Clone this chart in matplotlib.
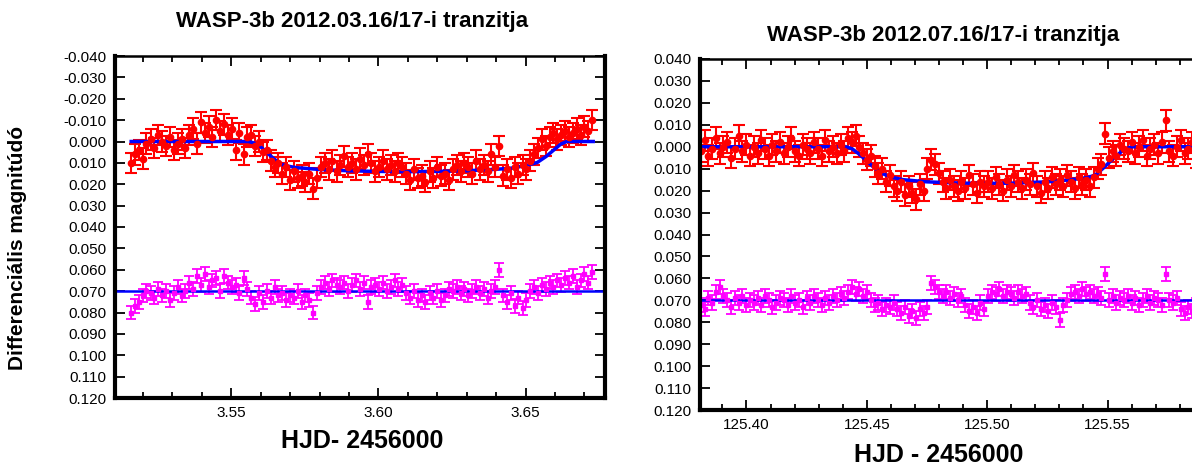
import numpy as np
import matplotlib; matplotlib.use("Agg")
import matplotlib.pyplot as plt
from matplotlib.ticker import MultipleLocator, FuncFormatter

plt.rcParams.update({"font.family": ["Liberation Sans", "DejaVu Sans"],
                     "axes.unicode_minus": False})

# --- 2012.03.16/17 (bal panel) ---
t_mar = [3.5160, 3.5173, 3.5186, 3.5199, 3.5212, 3.5226, 3.5239, 3.5252, 3.5265, 3.5278,
         3.5291, 3.5305, 3.5318, 3.5331, 3.5344, 3.5357, 3.5370, 3.5384, 3.5397, 3.5410,
         3.5423, 3.5436, 3.5449, 3.5463, 3.5476, 3.5489, 3.5502, 3.5515, 3.5528, 3.5542,
         3.5555, 3.5568, 3.5581, 3.5594, 3.5607, 3.5621, 3.5634, 3.5647, 3.5660, 3.5673,
         3.5686, 3.5700, 3.5713, 3.5726, 3.5739, 3.5752, 3.5765, 3.5779, 3.5792, 3.5805,
         3.5818, 3.5831, 3.5844, 3.5858, 3.5871, 3.5884, 3.5897, 3.5910, 3.5923, 3.5937,
         3.5950, 3.5963, 3.5976, 3.5989, 3.6002, 3.6016, 3.6029, 3.6042, 3.6055, 3.6068,
         3.6081, 3.6095, 3.6108, 3.6121, 3.6134, 3.6147, 3.6160, 3.6174, 3.6187, 3.6200,
         3.6213, 3.6226, 3.6239, 3.6253, 3.6266, 3.6279, 3.6292, 3.6305, 3.6318, 3.6332,
         3.6345, 3.6358, 3.6371, 3.6384, 3.6397, 3.6411, 3.6424, 3.6437, 3.6450, 3.6463,
         3.6476, 3.6490, 3.6503, 3.6516, 3.6529, 3.6542, 3.6555, 3.6569, 3.6582, 3.6595,
         3.6608, 3.6621, 3.6634, 3.6648, 3.6661, 3.6674, 3.6687, 3.6700, 3.6713, 3.6727]
var_mar = [0.010, 0.006, 0.004, 0.008, 0.001,
           -0.001, 0.003, -0.003, 0.000, 0.002, -0.002, 0.004, 0.001, -0.001, 0.003,
           -0.003, -0.006, 0.001, -0.009, -0.004, -0.007, -0.002, -0.010, -0.005, -0.008, -0.003, -0.006,
           0.004, -0.004, 0.006, -0.002,
           -0.003, 0.002, 0.000, 0.005, 0.004, 0.009, 0.012, 0.010,
           0.015, 0.012, 0.018, 0.014, 0.017, 0.016, 0.019, 0.015, 0.022, 0.017,
           0.012, 0.010, 0.013, 0.009, 0.014, 0.011, 0.007, 0.012, 0.010, 0.013, 0.008, 0.011, 0.006, 0.010,
           0.014, 0.012, 0.009, 0.013, 0.011, 0.014, 0.010, 0.012,
           0.015, 0.018, 0.013, 0.017, 0.016, 0.019, 0.014, 0.017, 0.012, 0.016, 0.015, 0.018,
           0.013, 0.011, 0.014, 0.010, 0.012, 0.015, 0.009, 0.013, 0.011, 0.014, 0.006, 0.012, 0.002,
           0.016, 0.013, 0.017, 0.012, 0.015, 0.011, 0.013,
           0.009, 0.006, 0.003, -0.001, 0.002, -0.002,
           -0.004, -0.001, -0.003, -0.005, -0.002, -0.004, -0.006, -0.003, -0.007, -0.005, -0.010]
chk_mar = [0.080, 0.077, 0.075, 0.072, 0.070,
           0.071, 0.073, 0.069, 0.072, 0.070, 0.074, 0.071, 0.068, 0.072, 0.070,
           0.066, 0.069, 0.063, 0.067, 0.062, 0.068, 0.065, 0.064, 0.070, 0.063, 0.066, 0.068,
           0.067, 0.071, 0.064, 0.069,
           0.073, 0.076, 0.071, 0.075, 0.070, 0.073, 0.068, 0.072,
           0.071, 0.074, 0.072, 0.073, 0.070, 0.075, 0.072, 0.074, 0.080, 0.071,
           0.068, 0.066, 0.069, 0.065, 0.067, 0.068, 0.066, 0.070, 0.067, 0.065, 0.069, 0.066, 0.075, 0.068,
           0.067, 0.069, 0.066, 0.070, 0.068, 0.065, 0.069, 0.067,
           0.071, 0.073, 0.070, 0.074, 0.072, 0.075, 0.071, 0.073, 0.070, 0.074, 0.072, 0.069,
           0.070, 0.068, 0.071, 0.069, 0.072, 0.070, 0.068, 0.071, 0.069, 0.073, 0.070, 0.068, 0.060,
           0.072, 0.075, 0.071, 0.077, 0.073, 0.078, 0.074,
           0.070, 0.068, 0.071, 0.067, 0.069, 0.066,
           0.068, 0.065, 0.067, 0.064, 0.066, 0.063, 0.068, 0.065, 0.062, 0.066, 0.061]
fit_t_mar = [3.5160, 3.5559, 3.5580, 3.5600, 3.5620, 3.5640, 3.5660, 3.5680, 3.5720, 3.5800,
             3.5900, 3.6000, 3.6100, 3.6200, 3.6300, 3.6400, 3.6450, 3.6500, 3.6540, 3.6570,
             3.6600, 3.6620, 3.6640, 3.6730]
fit_m_mar = [0.0, 0.0, 0.0008, 0.0025, 0.0050, 0.0075, 0.0098, 0.0112, 0.0122, 0.0131,
             0.0137, 0.0140, 0.0141, 0.0140, 0.0137, 0.0130, 0.0125, 0.0113, 0.0098, 0.0070,
             0.0035, 0.0012, 0.0, 0.0]

# --- 2012.07.16/17 (jobb panel) ---
t_jul = [125.3810, 125.3826, 125.3841, 125.3857, 125.3873, 125.3889, 125.3904, 125.3920, 125.3936, 125.3951,
         125.3967, 125.3983, 125.3998, 125.4014, 125.4030, 125.4046, 125.4061, 125.4077, 125.4093, 125.4108,
         125.4124, 125.4140, 125.4155, 125.4171, 125.4187, 125.4203, 125.4218, 125.4234, 125.4250, 125.4265,
         125.4281, 125.4297, 125.4312, 125.4328, 125.4344, 125.4360, 125.4375, 125.4391, 125.4407, 125.4422,
         125.4438, 125.4454, 125.4469, 125.4485, 125.4501, 125.4517, 125.4532, 125.4548, 125.4564, 125.4579,
         125.4595, 125.4611, 125.4626, 125.4642, 125.4658, 125.4674, 125.4689, 125.4705, 125.4721, 125.4736,
         125.4752, 125.4768, 125.4783, 125.4799, 125.4815, 125.4831, 125.4846, 125.4862, 125.4878, 125.4893,
         125.4909, 125.4925, 125.4940, 125.4956, 125.4972, 125.4988, 125.5003, 125.5019, 125.5035, 125.5050,
         125.5066, 125.5082, 125.5097, 125.5113, 125.5129, 125.5145, 125.5160, 125.5176, 125.5192, 125.5207,
         125.5223, 125.5239, 125.5254, 125.5270, 125.5286, 125.5302, 125.5317, 125.5333, 125.5349, 125.5364,
         125.5380, 125.5396, 125.5411, 125.5427, 125.5443, 125.5459, 125.5474, 125.5490, 125.5506, 125.5521,
         125.5537, 125.5553, 125.5568, 125.5584, 125.5600, 125.5616, 125.5631, 125.5647, 125.5663, 125.5678,
         125.5694, 125.5710, 125.5725, 125.5741, 125.5757, 125.5773, 125.5788, 125.5804, 125.5820, 125.5835,
         125.5851, 125.5867, 125.5882, 125.5898, 125.5914, 125.5930, 125.5945, 125.5961, 125.5977, 125.5992]
var_jul = [0.002, -0.003, 0.004, 0.001, -0.004, 0.003, 0.000, -0.002, 0.005, 0.001,
           -0.005, 0.002, -0.001, 0.004, 0.000, 0.003, -0.003, 0.001, 0.004, -0.001,
           0.002, -0.002, 0.003, 0.000, -0.004, 0.002, 0.004, -0.001, 0.001, 0.003,
           -0.002, 0.001, 0.004, -0.003, 0.002, 0.000, 0.003, -0.001, 0.002,
           -0.004, -0.002, -0.005, 0.000, 0.003,
           0.006, 0.004, 0.009, 0.012, 0.010, 0.016, 0.013, 0.018,
           0.020, 0.016, 0.022, 0.018, 0.021, 0.024, 0.017, 0.020,
           0.010, 0.006, 0.008, 0.012,
           0.016, 0.019, 0.015, 0.018, 0.020, 0.016, 0.019, 0.013, 0.017, 0.021, 0.016, 0.018,
           0.016, 0.019, 0.014, 0.017, 0.020, 0.015, 0.018, 0.013, 0.016, 0.019,
           0.015, 0.017, 0.012, 0.018, 0.021, 0.016, 0.019, 0.014, 0.017, 0.015,
           0.018, 0.013, 0.016, 0.019, 0.014, 0.017, 0.015, 0.018,
           0.014, 0.010, 0.008, -0.006, 0.005, 0.002, 0.004, -0.001, 0.001,
           0.002, -0.002, 0.003, 0.000, -0.003, 0.004, 0.001, -0.001, 0.003, -0.002,
           -0.012, 0.002, 0.004, 0.000, -0.003, 0.003, 0.001, -0.002, 0.005, 0.002,
           -0.001, 0.003, 0.000, 0.004, -0.002, 0.002, 0.001]
chk_jul = [0.072, 0.074, 0.069, 0.071, 0.066, 0.064, 0.068, 0.070, 0.073, 0.069, 0.071, 0.068, 0.072,
           0.070, 0.071, 0.069, 0.072, 0.068, 0.070, 0.073, 0.071, 0.069, 0.070,
           0.072, 0.068, 0.071, 0.070, 0.073, 0.069, 0.071, 0.068, 0.070, 0.072,
           0.069, 0.071, 0.068, 0.070, 0.067, 0.069,
           0.066, 0.064, 0.067, 0.065, 0.068, 0.066,
           0.070, 0.072, 0.071, 0.074, 0.072, 0.073, 0.071,
           0.074, 0.076, 0.073, 0.077, 0.075, 0.078, 0.074, 0.076, 0.073,
           0.062, 0.064, 0.066,
           0.068, 0.066, 0.069, 0.067, 0.070, 0.068,
           0.072, 0.075, 0.073, 0.076, 0.071, 0.074,
           0.068, 0.066, 0.067, 0.065, 0.068, 0.066, 0.067, 0.069, 0.066, 0.068, 0.067,
           0.071, 0.073, 0.070, 0.074, 0.072, 0.075, 0.071, 0.073, 0.079, 0.072, 0.070,
           0.067, 0.066, 0.068, 0.065, 0.067, 0.066, 0.068, 0.067, 0.069, 0.058,
           0.070, 0.068, 0.071, 0.069, 0.070, 0.068, 0.071, 0.069, 0.072, 0.070, 0.068, 0.071, 0.069,
           0.070, 0.072, 0.058, 0.070, 0.071, 0.069,
           0.074, 0.076, 0.073, 0.075, 0.072, 0.074, 0.071,
           0.069, 0.070, 0.068, 0.071, 0.069, 0.070]
fit_t_jul = [125.3810, 125.4414, 125.4440, 125.4470, 125.4500, 125.4530, 125.4560, 125.4600, 125.4650,
             125.4750, 125.4900, 125.5000, 125.5100, 125.5250, 125.5350, 125.5420, 125.5450, 125.5480,
             125.5510, 125.5540, 125.5570, 125.5600, 125.6200]
fit_m_jul = [0.0, 0.0, 0.0010, 0.0035, 0.0065, 0.0095, 0.0120, 0.0138, 0.0150,
             0.0160, 0.0166, 0.0167, 0.0166, 0.0160, 0.0150, 0.0140, 0.0128, 0.0100,
             0.0068, 0.0038, 0.0012, 0.0, 0.0]

err_var = 0.0048
err_chk = 0.0032
chk_level = 0.070

fig = plt.figure(figsize=(11.92, 4.67), dpi=100)
ax1 = fig.add_axes([115/1192, 1-398/467, 490/1192, 342/467])
ax2 = fig.add_axes([700/1192, 1-410/467, 576/1192, 351/467])


def style(ax, xlim, shown_max, absfmt=False):
    ax.set_xlim(*xlim)
    ax.set_ylim(0.120, -0.040)
    ax.xaxis.set_major_locator(MultipleLocator(0.05))
    ax.xaxis.set_minor_locator(MultipleLocator(0.01))
    ax.yaxis.set_major_locator(MultipleLocator(0.01))
    if absfmt:
        ax.yaxis.set_major_formatter(FuncFormatter(lambda v, p: "%.3f" % abs(v)))
    else:
        ax.yaxis.set_major_formatter(FuncFormatter(lambda v, p: "%.3f" % (0.0 if abs(v) < 1e-9 else v)))
    ax.xaxis.set_major_formatter(FuncFormatter(lambda v, p: "%.2f" % v if v < shown_max else ""))
    ax.tick_params(which="both", direction="in", top=True, right=True, width=1.3,
                   labelsize=11, pad=6)
    ax.tick_params(which="major", length=7)
    ax.tick_params(which="minor", length=4)
    for s in ("left", "bottom", "right"):
        ax.spines[s].set_linewidth(3)
    ax.spines["top"].set_linewidth(1.8)


for ax, t, v, c, ft, fm in ((ax1, t_mar, var_mar, chk_mar, fit_t_mar, fit_m_mar),
                             (ax2, t_jul, var_jul, chk_jul, fit_t_jul, fit_m_jul)):
    ax.errorbar(t, c, yerr=err_chk, fmt="s", color="#ff00ff", ms=3.5, elinewidth=1.3,
                capsize=3.5, capthick=1.3)
    ax.errorbar(t, v, yerr=err_var, fmt="o", color="#ff0000", ms=4.5, elinewidth=1.5,
                capsize=4, capthick=1.5)
    ax.plot(ft, fm, color="#0000ff", lw=2.5)
    ax.axhline(chk_level, color="#0000ff", lw=1.8)

style(ax1, (3.5105, 3.677), 3.68)
style(ax2, (125.3807, 125.620), 125.58, absfmt=True)

fig.text(352/1192, 1-22/467, "WASP-3b 2012.03.16/17-i tranzitja", ha="center", va="center",
         fontsize=16, fontweight="bold")
fig.text(943/1192, 1-35/467, "WASP-3b 2012.07.16/17-i tranzitja", ha="center", va="center",
         fontsize=16, fontweight="bold")
fig.text(362/1192, 1-441/467, "HJD- 2456000", ha="center", va="center",
         fontsize=18, fontweight="bold")
fig.text(939/1192, 1-455/467, "HJD - 2456000", ha="center", va="center",
         fontsize=18, fontweight="bold")
fig.text(18/1192, 1-248/467, "Differenciális magnitúdó", ha="center", va="center",
         rotation=90, fontsize=15, fontweight="bold")

fig.savefig("out.png", dpi=100)
